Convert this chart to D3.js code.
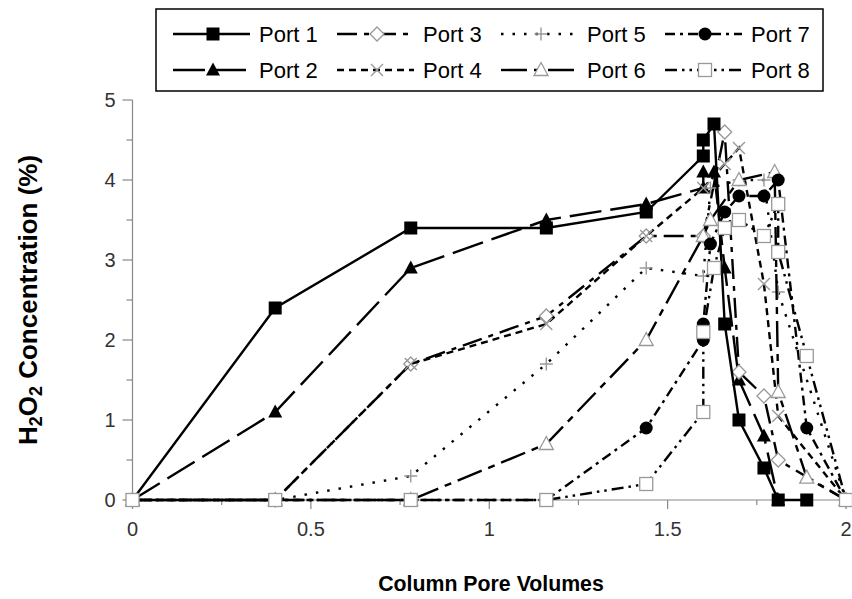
<!DOCTYPE html>
<html><head><meta charset="utf-8">
<script src="https://cdn.jsdelivr.net/npm/d3@7"></script>
<style>body{margin:0;background:#fff}svg{display:block}</style>
</head><body>
<svg id="chart" width="852" height="599"></svg>
<script>
const portNames = ["Port 1","Port 2","Port 3","Port 4","Port 5","Port 6","Port 7","Port 8"];
const port1X = [0,0.4,0.78,1.16,1.44,1.6,1.6,1.63,1.66,1.7,1.77,1.81,1.89];
const port1Y = [0,2.4,3.4,3.4,3.6,4.3,4.5,4.7,2.2,1.0,0.4,0,0];
const port2X = [0,0.4,0.78,1.16,1.44,1.6,1.6,1.63,1.66,1.7,1.77,1.81];
const port2Y = [0,1.1,2.9,3.5,3.7,3.9,4.1,4.1,2.9,1.5,0.8,0];
const port3X = [0,0.4,0.78,1.16,1.44,1.6,1.66,1.7,1.77,1.81,2.0];
const port3Y = [0,0,1.7,2.3,3.3,3.3,4.6,1.6,1.3,0.5,0];
const port4X = [0,0.4,0.78,1.16,1.44,1.6,1.66,1.7,1.77,1.81,2.0];
const port4Y = [0,0,1.7,2.2,3.3,3.9,4.2,4.4,2.7,1.05,0];
const port5X = [0,0.4,0.78,1.16,1.44,1.6,1.62,1.7,1.77,1.81,2.0];
const port5Y = [0,0,0.3,1.7,2.9,2.8,3.9,4.0,4.0,2.6,0];
const port6X = [0,0.4,0.78,1.16,1.44,1.6,1.62,1.7,1.8,1.81,1.89,2.0];
const port6Y = [0,0,0,0.7,2.0,3.3,3.5,4.0,4.1,1.35,0.28,0];
const port7X = [0,0.4,0.78,1.16,1.44,1.6,1.6,1.62,1.66,1.7,1.77,1.81,1.89,2.0];
const port7Y = [0,0,0,0,0.9,2.0,2.2,3.2,3.6,3.8,3.8,4.0,0.9,0];
const port8X = [0,0.4,0.78,1.16,1.44,1.6,1.6,1.63,1.66,1.7,1.77,1.81,1.81,1.89,2.0];
const port8Y = [0,0,0,0,0.2,1.1,2.1,2.9,3.4,3.5,3.3,3.7,3.1,1.8,0];
const xTicks = [0,0.5,1,1.5,2];
const xTickLabels = ["0","0.5","1","1.5","2"];
const yTicks = [0,1,2,3,4,5];
const yTickLabels = ["0","1","2","3","4","5"];

const seriesX = [port1X,port2X,port3X,port4X,port5X,port6X,port7X,port8X];
const seriesY = [port1Y,port2Y,port3Y,port4Y,port5Y,port6Y,port7Y,port8Y];
const dashes = [null,"32,9","20,7,5,7","7,5","2.5,9","26,7,7,7","10,5,3,5","12,5,2.5,5,2.5,5"];
const markerTypes = ["sqf","trif","diam","cross","plus","trio","circ","sqo"];
const drawOrder = [1,2,3,4,5,6,0,7];

const svg = d3.select("#chart");
const x = d3.scaleLinear().domain([0,2]).range([132.5,846]);
const y = d3.scaleLinear().domain([0,5]).range([500,100]);
const font = "'Liberation Sans', Arial, sans-serif";

// axes
const gx = svg.append("g").attr("transform",`translate(0,${y(0)})`);
gx.append("line").attr("x1",x(0)).attr("x2",x(2)).attr("stroke","#888").attr("stroke-width",1.2);
d3.range(0,2.01,0.25).forEach(v=>{
  const major = Math.abs(v*2-Math.round(v*2))<1e-6;
  gx.append("line").attr("x1",x(v)).attr("x2",x(v)).attr("y1",0).attr("y2",major?9:5).attr("stroke","#888").attr("stroke-width",1.2);
});
xTicks.forEach((v,i)=>{
  gx.append("text").attr("x",x(v)).attr("y",36).attr("text-anchor","middle")
    .attr("font-family",font).attr("font-size",20).attr("fill","#333").text(xTickLabels[i]);
});
const gy = svg.append("g").attr("transform",`translate(${x(0)},0)`);
gy.append("line").attr("y1",y(0)).attr("y2",y(5)).attr("stroke","#888").attr("stroke-width",1.2);
d3.range(0,5.01,0.5).forEach(v=>{
  const major = Math.abs(v-Math.round(v))<1e-6;
  gy.append("line").attr("x1",major?-10:-6).attr("x2",0).attr("y1",y(v)).attr("y2",y(v)).attr("stroke","#888").attr("stroke-width",1.2);
});
yTicks.forEach((v,i)=>{
  gy.append("text").attr("x",-17).attr("y",y(v)+7).attr("text-anchor","end")
    .attr("font-family",font).attr("font-size",20).attr("fill","#333").text(yTickLabels[i]);
});

// titles
svg.append("text").attr("x",491).attr("y",591).attr("text-anchor","middle")
  .attr("font-family",font).attr("font-size",21.3).attr("font-weight","bold").text("Column Pore Volumes");
const yt = svg.append("text").attr("transform","translate(37,300) rotate(-90)").attr("text-anchor","middle")
  .attr("font-family",font).attr("font-size",26).attr("font-weight","bold");
yt.append("tspan").text("H");
yt.append("tspan").attr("baseline-shift","-25%").attr("font-size",18).text("2");
yt.append("tspan").text("O");
yt.append("tspan").attr("baseline-shift","-25%").attr("font-size",18).text("2");
yt.append("tspan").text(" Concentration (%)");

function drawMarker(g, type, cx, cy){
  const grey = "#999";
  if(type==="sqf") g.append("rect").attr("x",cx-6.5).attr("y",cy-6.5).attr("width",13).attr("height",13).attr("fill","#000");
  else if(type==="sqo") g.append("rect").attr("x",cx-6.5).attr("y",cy-6.5).attr("width",13).attr("height",13).attr("fill","#fff").attr("stroke",grey).attr("stroke-width",1.3);
  else if(type==="circ") g.append("circle").attr("cx",cx).attr("cy",cy).attr("r",6.5).attr("fill","#000");
  else if(type==="trif") g.append("path").attr("d",`M${cx},${cy-7.5}L${cx+7},${cy+5.5}L${cx-7},${cy+5.5}Z`).attr("fill","#000");
  else if(type==="trio") g.append("path").attr("d",`M${cx},${cy-7.5}L${cx+7},${cy+5.5}L${cx-7},${cy+5.5}Z`).attr("fill","#fff").attr("stroke",grey).attr("stroke-width",1.3);
  else if(type==="diam") g.append("path").attr("d",`M${cx},${cy-7}L${cx+7},${cy}L${cx},${cy+7}L${cx-7},${cy}Z`).attr("fill","#fff").attr("stroke",grey).attr("stroke-width",1.3);
  else if(type==="cross") g.append("path").attr("d",`M${cx-6},${cy-6}L${cx+6},${cy+6}M${cx-6},${cy+6}L${cx+6},${cy-6}`).attr("stroke",grey).attr("stroke-width",1.4);
  else if(type==="plus") g.append("path").attr("d",`M${cx-6.5},${cy}L${cx+6.5},${cy}M${cx},${cy-6.5}L${cx},${cy+6.5}`).attr("stroke",grey).attr("stroke-width",1.4);
}

const line = d3.line().x(d=>x(d[0])).y(d=>y(d[1]));
drawOrder.forEach(i=>{
  const pts = seriesX[i].map((v,j)=>[v,seriesY[i][j]]);
  const g = svg.append("g");
  g.append("path").datum(pts).attr("d",line).attr("fill","none").attr("stroke","#000")
    .attr("stroke-width",2.4).attr("stroke-dasharray",dashes[i]);
  pts.forEach(p=>drawMarker(g, markerTypes[i], x(p[0]), y(p[1])));
});

// legend
const lg = svg.append("g");
lg.append("rect").attr("x",156).attr("y",9).attr("width",667).attr("height",82).attr("fill","#fff").attr("stroke","#000").attr("stroke-width",1.5);
const colStart = [173,337,501,665];
const rowY = [34,70];
portNames.forEach((name,i)=>{
  const col = Math.floor(i/2), row = i%2;
  const sx = colStart[col], cy = rowY[row];
  lg.append("line").attr("x1",sx).attr("x2",sx+77).attr("y1",cy).attr("y2",cy).attr("stroke","#000")
    .attr("stroke-width",2.4).attr("stroke-dasharray",dashes[i]);
  drawMarker(lg, markerTypes[i], sx+40, cy);
  lg.append("text").attr("x",sx+86).attr("y",cy+8).attr("font-family",font).attr("font-size",22).attr("fill","#000").text(name);
});
</script>
</body></html>
